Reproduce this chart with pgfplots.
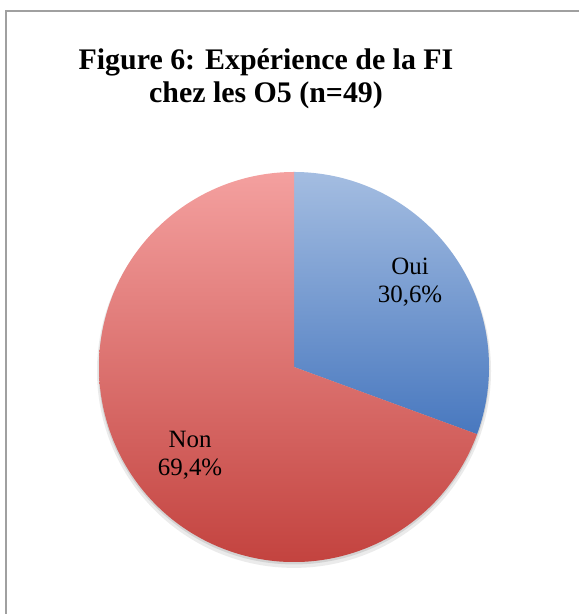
\documentclass[border=0pt]{standalone}
\usepackage{fontspec}
\setmainfont{Liberation Serif}
\usepackage{pgfplots}
\pgfplotsset{compat=1.18}

\definecolor{ouiTop}{HTML}{A4BDE1}
\definecolor{ouiBot}{HTML}{4878BF}
\definecolor{nonTop}{HTML}{F4A09F}
\definecolor{nonBot}{HTML}{C3433F}
\definecolor{frame}{HTML}{A0A0A0}

% parts in percent
\def\vOui{30.6}
\def\vNon{69.4}
\pgfmathsetmacro{\aStart}{90}
\pgfmathsetmacro{\aMid}{90-3.6*\vOui}
\pgfmathsetmacro{\aEnd}{\aMid-3.6*\vNon}
\pgfmathsetmacro{\yLow}{sin(\aMid)}

\begin{document}
\begin{tikzpicture}[x=1bp,y=1bp]
\path[use as bounding box] (0,0) rectangle (579,614);
\draw[line width=1.6bp, frame] (6,-2) -- (6,603) -- (581,603);
\node[font=\fontsize{30}{33}\selectfont\bfseries, align=center] at (266,535)
  {Figure 6: Expérience de la FI\\chez les O5 (n=49)};
\begin{axis}[
    at={(294bp,247bp)}, anchor=center,
    width=390bp, height=390bp, scale only axis,
    xmin=-1, xmax=1, ymin=-1, ymax=1,
    hide axis, clip=false,
    /pgf/number format/assume math mode=true,
]
% soft shadow
\fill[black, opacity=0.08] (axis cs:0,-0.02) circle[radius=197bp];
\fill[black, opacity=0.10] (axis cs:0,-0.01) circle[radius=195.5bp];
% Oui
\begin{scope}
  \clip (axis cs:0,0) -- ++(\aStart:195bp) arc[start angle=\aStart, end angle=\aMid, radius=195bp] -- cycle;
  \shade[top color=ouiTop, bottom color=ouiBot] (axis cs:-1,\yLow) rectangle (axis cs:1,1);
\end{scope}
% Non
\begin{scope}
  \clip (axis cs:0,0) -- ++(\aMid:195bp) arc[start angle=\aMid, end angle=\aEnd, radius=195bp] -- cycle;
  \shade[top color=nonTop, bottom color=nonBot] (axis cs:-1,-1) rectangle (axis cs:1,1);
\end{scope}
\node[font=\fontsize{25}{28}\selectfont, align=center] at (axis cs:0.595,0.436)
  {Oui\\\pgfmathprintnumber[use comma,fixed,fixed zerofill,precision=1]{\vOui}\%};
\node[font=\fontsize{25}{28}\selectfont, align=center] at (axis cs:-0.533,-0.451)
  {Non\\\pgfmathprintnumber[use comma,fixed,fixed zerofill,precision=1]{\vNon}\%};
\end{axis}
\end{tikzpicture}
\end{document}
